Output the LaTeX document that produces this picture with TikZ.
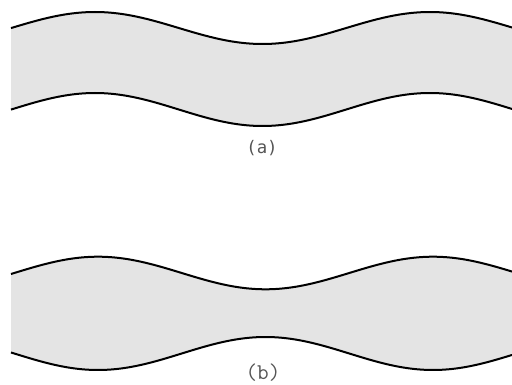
\documentclass[tikz,border=0pt]{standalone}
\usepackage{fontspec}
\newfontfamily\capfonta{DejaVu Sans Mono}
\usepackage{xcolor}
\definecolor{bandgray}{RGB}{228,228,228}
\definecolor{capgray}{RGB}{85,85,85}

\begin{document}
\begin{tikzpicture}[
  x=0.75pt,y=-0.75pt,
  declare function={ph(\t,\s)=1.074627*(\t-\s);},
  band/.style={fill=bandgray,draw=none},
  rim/.style={draw=black,line width=1.5pt,line join=round},
  sublabel/.style={text=capgray,font=\fontsize{13}{15}\selectfont,inner sep=0pt}
]
\useasboundingbox (0,0) rectangle (512,385);
% (a) uniform band
\fill[band] plot[domain=11:512,samples=150] (\x,{28-16*cos(ph(\x,95))})
  -- plot[domain=512:11,samples=150] (\x,{109.5-16.5*cos(ph(\x,95))}) -- cycle;
\draw[rim] plot[domain=11:512,samples=150] (\x,{28-16*cos(ph(\x,95))});
\draw[rim] plot[domain=11:512,samples=150] (\x,{109.5-16.5*cos(ph(\x,95))});
\node[sublabel] (capa) at (262,148) {\capfonta (a)};
% (b) necked band
\fill[band] plot[domain=11:512,samples=150] (\x,{273-16.3*cos(ph(\x,98))})
  -- plot[domain=512:11,samples=150] (\x,{353.5+16.5*cos(ph(\x,98))}) -- cycle;
\draw[rim] plot[domain=11:512,samples=150] (\x,{273-16.3*cos(ph(\x,98))});
\draw[rim] plot[domain=11:512,samples=150] (\x,{353.5+16.5*cos(ph(\x,98))});
\node[sublabel,scale=1.3] (capb) at (263,373) {\ttfamily (b)};
\end{tikzpicture}
\end{document}
